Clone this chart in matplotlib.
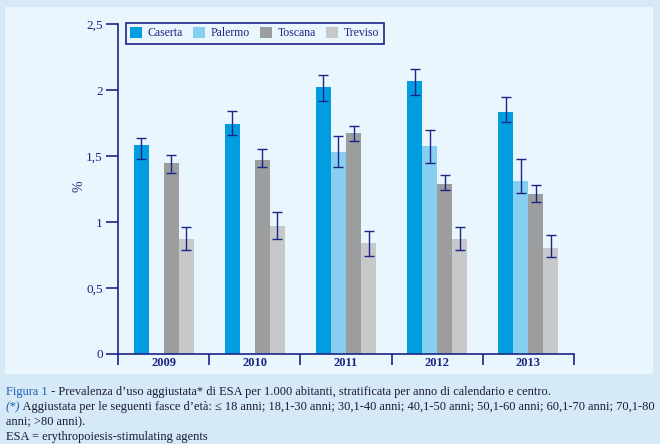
import numpy as np
import matplotlib
matplotlib.use("Agg")
from matplotlib import pyplot as plt
from matplotlib.patches import Rectangle, Patch

years = ["2009", "2010", "2011", "2012", "2013"]
centri = ["Caserta", "Palermo", "Toscana", "Treviso"]

caserta = [1.58, 1.74, 2.02, 2.07, 1.83]
caserta_lo = [1.48, 1.66, 1.92, 1.96, 1.755]
caserta_hi = [1.64, 1.84, 2.11, 2.16, 1.945]

palermo = [np.nan, np.nan, 1.53, 1.575, 1.31]
palermo_lo = [np.nan, np.nan, 1.415, 1.45, 1.22]
palermo_hi = [np.nan, np.nan, 1.65, 1.695, 1.475]

toscana = [1.445, 1.47, 1.675, 1.29, 1.21]
toscana_lo = [1.375, 1.415, 1.61, 1.24, 1.155]
toscana_hi = [1.505, 1.55, 1.73, 1.355, 1.28]

treviso = [0.87, 0.97, 0.84, 0.87, 0.80]
treviso_lo = [0.785, 0.875, 0.745, 0.785, 0.735]
treviso_hi = [0.965, 1.075, 0.93, 0.965, 0.90]

yticks = [0, 0.5, 1, 1.5, 2, 2.5]
ytick_labels = ["0", "0,5", "1", "1,5", "2", "2,5"]

colori = ["#009ee0", "#87cff1", "#9c9d9f", "#c7c8ca"]
navy = "#1b2585"
outer_bg = "#d5e9f6"
inner_bg = "#eaf6fd"

plt.rcParams["font.family"] = ["Liberation Serif", "DejaVu Serif"]

W, H = 660, 444
fig = plt.figure(figsize=(W / 100, H / 100), dpi=100)
fig.patch.set_facecolor(outer_bg)

# pannello chiaro dietro al grafico
fig.patches.append(Rectangle((5 / W, 1 - 374 / H), 648 / W, 367 / H,
                             transform=fig.transFigure, facecolor=inner_bg,
                             edgecolor="none", zorder=-5))

ax = fig.add_axes([118 / W, 1 - 354 / H, 456 / W, 330 / H])
ax.set_facecolor("none")
ax.set_zorder(2)

serie = [(caserta, caserta_lo, caserta_hi),
         (palermo, palermo_lo, palermo_hi),
         (toscana, toscana_lo, toscana_hi),
         (treviso, treviso_lo, treviso_hi)]

x = np.arange(len(years)) + 0.5
w = 0.165
for i, (vals, lo, hi) in enumerate(serie):
    vals = np.array(vals)
    pos = x + (i - 1.5) * w
    ax.bar(pos, vals, width=w, color=colori[i], label=centri[i], zorder=2)
    err = [vals - np.array(lo), np.array(hi) - vals]
    ax.errorbar(pos, vals, yerr=err, fmt="none", ecolor=navy,
                elinewidth=1, capsize=3.5, capthick=1, zorder=3)

ax.set_xlim(0, len(years))
ax.set_ylim(0, 2.5)
ax.set_yticks(yticks)
ax.set_yticklabels(ytick_labels)
ax.set_xticks(np.arange(len(years) + 1))
ax.set_xticklabels([])
ax.set_xticks(x, minor=True)
ax.set_xticklabels(years, minor=True)

for s in ["top", "right"]:
    ax.spines[s].set_visible(False)
for s in ["left", "bottom"]:
    ax.spines[s].set_color(navy)
    ax.spines[s].set_linewidth(1.2)

ax.tick_params(axis="y", colors=navy, length=9, width=1.2, labelsize=9.5, pad=2)
ax.tick_params(axis="x", which="major", colors=navy, length=8, width=1.2)
ax.tick_params(axis="x", which="minor", length=0, labelsize=9,
               labelcolor=navy, pad=2)
for t in ax.get_xticklabels(minor=True):
    t.set_fontweight("bold")

ax.set_ylabel("%", color=navy, fontsize=10)
ax.yaxis.set_label_coords(-0.072, 0.51)

handles = [Patch(facecolor=c, edgecolor="none") for c in colori]
leg = ax.legend(handles, centri, ncol=4, loc="upper left",
                bbox_to_anchor=(126 / W, 1 - 23 / H),
                bbox_transform=fig.transFigure, fancybox=False,
                frameon=True, handlelength=1.0, handleheight=1.0,
                handletextpad=0.5, columnspacing=0.85, borderpad=0.35,
                borderaxespad=0, fontsize=8.5, labelcolor=navy)
leg.get_frame().set_edgecolor(navy)
leg.get_frame().set_facecolor(inner_bg)
leg.get_frame().set_linewidth(1.2)
leg.get_frame().set_alpha(1)

# didascalia
blu = "#1f5db4"
testo = "#1a1a38"
fs = 8.9
fig.canvas.draw()
r = fig.canvas.get_renderer()


def riga(parti, y):
    xp = 6
    for s, col, stile in parti:
        t = fig.text(xp / W, 1 - y / H, s, color=col, fontsize=fs,
                     style=stile, va="baseline", ha="left")
        bb = t.get_window_extent(renderer=r)
        xp += bb.width


riga([("Figura 1", blu, "normal"),
      (" - Prevalenza d\u2019uso aggiustata* di ESA per 1.000 abitanti, "
       "stratificata per anno di calendario e centro.", testo, "normal")], 395)
riga([("(*)", blu, "italic"),
      (" Aggiustata per le seguenti fasce d\u2019et\u00e0: \u2264 18 anni; "
       "18,1-30 anni; 30,1-40 anni; 40,1-50 anni; 50,1-60 anni; "
       "60,1-70 anni; 70,1-80", testo, "normal")], 410)
riga([("anni; >80 anni).", testo, "normal")], 425)
riga([("ESA = erythropoiesis-stimulating agents", testo, "normal")], 440)

fig.savefig("out.png", dpi=100, facecolor=outer_bg)
